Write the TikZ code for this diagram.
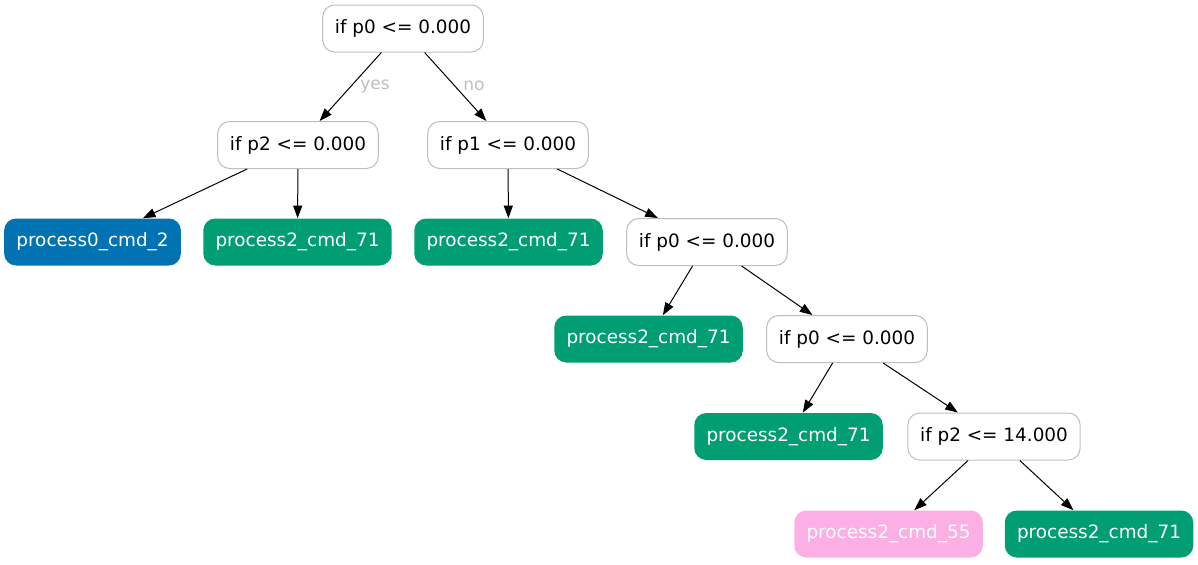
\documentclass[tikz,border=0pt]{standalone}
\usepackage{fontspec}
\setmainfont{DejaVu Sans}
\usetikzlibrary{arrows.meta}
\definecolor{leafgreen}{HTML}{029E73}
\definecolor{leafblue}{HTML}{0173B2}
\definecolor{leafpink}{HTML}{FBAFE4}
\definecolor{edgegray}{HTML}{BEBEBE}
\begin{document}
\begin{tikzpicture}[x=0.75pt,y=-0.75pt,
    split/.style = {draw=edgegray, line width=0.75pt, rounded corners=9pt, fill=white,
        minimum height=35.25pt, inner xsep=9.2pt, font=\fontsize{13.8}{16}\selectfont},
    leaf/.style = {rounded corners=9pt, text=white,
        minimum height=35.25pt, inner xsep=9.2pt, font=\fontsize{13.8}{16}\selectfont},
    lab/.style = {text=edgegray, font=\fontsize{12.8}{15}\selectfont},
    edge/.style = {-{Triangle[length=9.5pt,width=6.8pt]}, line width=0.75pt}]
    \useasboundingbox (0,0) rectangle (1198,564);
    \node at (403,28.5)  [split] (1) {if p0 <= 0.000};
    \node at (298,145)   [split] (2) {if p2 <= 0.000};
    \node at (508,145)   [split] (3) {if p1 <= 0.000};
    \node at (92.5,242)  [leaf,fill=leafblue] (4) {process0\_cmd\_2};
    \node at (297.5,242) [leaf,fill=leafgreen] (5) {process2\_cmd\_71};
    \node at (508.5,242) [leaf,fill=leafgreen] (6) {process2\_cmd\_71};
    \node at (707,242)   [split] (7) {if p0 <= 0.000};
    \node at (648.5,339) [leaf,fill=leafgreen] (8) {process2\_cmd\_71};
    \node at (847,339)   [split] (9) {if p0 <= 0.000};
    \node at (788.5,436.5) [leaf,fill=leafgreen] (10) {process2\_cmd\_71};
    \node at (994,436.5) [split] (11) {if p2 <= 14.000};
    \node at (888.5,534) [leaf,fill=leafpink] (12) {process2\_cmd\_55};
    \node at (1099,534)  [leaf,fill=leafgreen] (13) {process2\_cmd\_71};
    \node at (375,86) [lab] (yes) {yes};
    \node at (474,86) [lab] (no) {no};
    \draw[edge] (1) -- (2);
    \draw[edge] (1) -- (3);
    \draw[edge] (2) -- (4);
    \draw[edge] (2) -- (5);
    \draw[edge] (3) -- (6);
    \draw[edge] (3) -- (7);
    \draw[edge] (7) -- (8);
    \draw[edge] (7) -- (9);
    \draw[edge] (9) -- (10);
    \draw[edge] (9) -- (11);
    \draw[edge] (11) -- (12);
    \draw[edge] (11) -- (13);
\end{tikzpicture}
\end{document}
